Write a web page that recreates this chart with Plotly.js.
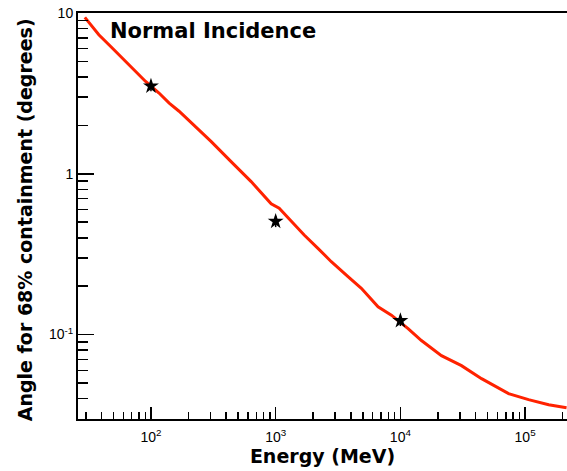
<!DOCTYPE html>
<html>
<head>
<meta charset="utf-8">
<script src="https://cdn.plot.ly/plotly-3.0.1.min.js"></script>
<style>html,body{margin:0;padding:0;background:#fff;}#chart{width:567px;height:471px;}</style>
</head>
<body>
<div id="chart"></div>
<script>
// PSF curve (energy in MeV, 68% containment angle in degrees)
var curveEnergy = [29.5, 38.2, 48.9, 66.5, 90.6, 116, 140, 168, 213, 303, 439, 636, 920, 1067, 1330, 1693, 2183, 2793, 3802, 4864, 6622, 8472, 11530, 14750, 21340, 30900, 44770, 56900, 73700, 106600, 154500, 215000];
var curveAngle  = [9.40, 7.33, 6.06, 4.76, 3.75, 3.18, 2.75, 2.45, 2.06, 1.59, 1.19, 0.894, 0.650, 0.610, 0.509, 0.416, 0.344, 0.284, 0.229, 0.194, 0.149, 0.132, 0.109, 0.0918, 0.0740, 0.0641, 0.0532, 0.0481, 0.0429, 0.0394, 0.0366, 0.0351];
// Measured points
var pointEnergy = [100, 1000, 10000];
var pointAngle  = [3.51, 0.506, 0.122];
// Tick labels
var xTickVals = [100, 1000, 10000, 100000];
var xTickText = ['10<sup>2</sup>', '10<sup>3</sup>', '10<sup>4</sup>', '10<sup>5</sup>'];
var yTickVals = [0.1, 1, 10];
var yTickText = ['10<sup>-1</sup>', '1', '10'];

var traces = [
  {x: curveEnergy, y: curveAngle, mode: 'lines', line: {color: '#ff2200', width: 3}, hoverinfo: 'skip'},
  {x: pointEnergy, y: pointAngle, mode: 'markers',
   marker: {symbol: 'star', size: 12, color: '#000'},
   error_y: {type: 'data', array: [0.25, 0.04, 0.009], color: '#000', thickness: 1.5, width: 0}}
];

var tickFamily = 'Liberation Sans, Arial, sans-serif';
var titleFamily = 'DejaVu Sans, Verdana, sans-serif';
var layout = {
  width: 567, height: 471,
  margin: {l: 78, r: 0, t: 13, b: 52},
  paper_bgcolor: '#fff', plot_bgcolor: '#fff',
  showlegend: false,
  font: {family: tickFamily, color: '#000'},
  xaxis: {
    type: 'log', range: [1.415, 5.336],
    showline: true, linecolor: '#000', linewidth: 2, mirror: true,
    ticks: 'inside', ticklen: 12, tickwidth: 1.5, tickcolor: '#000',
    tickvals: xTickVals, ticktext: xTickText, ticklabelstandoff: 4,
    tickfont: {family: tickFamily, size: 14, color: '#000'},
    showgrid: false, zeroline: false,
    minor: {ticks: 'inside', ticklen: 7, tickwidth: 1.5, tickcolor: '#000', dtick: 'D1', showgrid: false},
    title: {text: '<b>Energy (MeV)</b>', font: {family: titleFamily, size: 19, color: '#000'}, standoff: 6}
  },
  yaxis: {
    type: 'log', range: [-1.525, 1.0],
    showline: true, linecolor: '#000', linewidth: 2, mirror: false,
    ticks: 'inside', ticklen: 16, tickwidth: 1.5, tickcolor: '#000',
    tickvals: yTickVals, ticktext: yTickText,
    tickfont: {family: tickFamily, size: 14, color: '#000'},
    showgrid: false, zeroline: false,
    minor: {ticks: 'inside', ticklen: 10, tickwidth: 1.5, tickcolor: '#000', dtick: 'D1', showgrid: false}
  },
  annotations: [{
    xref: 'paper', yref: 'paper', x: 0.061, y: 0.956, xanchor: 'left', yanchor: 'middle',
    text: '<b>Normal Incidence</b>', showarrow: false,
    font: {family: titleFamily, size: 21, color: '#000'}
  }, {
    xref: 'paper', yref: 'paper', x: -0.108, y: 0.49, xanchor: 'center', yanchor: 'middle',
    textangle: -90,
    text: '<b>Angle for 68% containment (degrees)</b>', showarrow: false,
    font: {family: titleFamily, size: 19, color: '#000'}
  }]
};
Plotly.newPlot('chart', traces, layout, {displayModeBar: false, staticPlot: true});
</script>
</body>
</html>
